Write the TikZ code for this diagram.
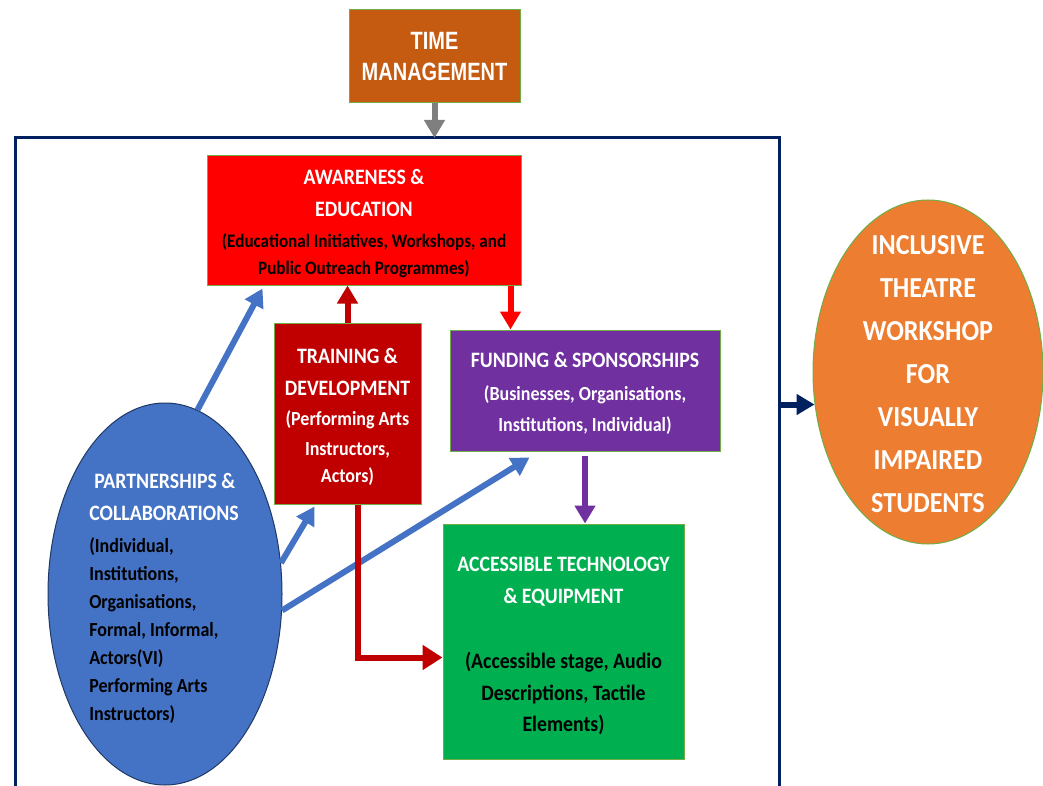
\documentclass[tikz,border=0pt]{standalone}
\usepackage{fontspec}
\setmainfont{Carlito}[FakeStretch=0.9]
\newfontfamily\narrowfont{Liberation Sans}[FakeStretch=0.8]
\usetikzlibrary{arrows.meta,shapes.geometric}

\definecolor{timebrown}{HTML}{C55A11}
\definecolor{framenavy}{HTML}{002060}
\definecolor{edgegreen}{HTML}{70AD47}
\definecolor{awred}{HTML}{FF0000}
\definecolor{trdred}{HTML}{C00000}
\definecolor{fundpurple}{HTML}{7030A0}
\definecolor{techgreen}{HTML}{00B050}
\definecolor{ptnblue}{HTML}{4472C4}
\definecolor{ptnedge}{HTML}{203864}
\definecolor{outorange}{HTML}{ED7D31}
\definecolor{arrgrey}{HTML}{7F7F7F}

% one line of a box: title (white), body (black)
\newcommand{\tline}[1]{{\fontsize{22}{32}\selectfont #1}}
\newcommand{\kline}[1]{{\color{black}#1}}

\begin{document}
\begin{tikzpicture}[x=1pt,y=-1pt,
  blk/.style={draw=edgegreen, line width=1, inner sep=0},
  txt/.style={text=white, align=center, inner sep=0, yshift=-3pt},
  arr/.style={line width=6, -{Triangle[length=18pt,width=20pt]}}]
\useasboundingbox (0,0) rectangle (1043,786);

\coordinate (ftl) at (15,138);
\coordinate (ftr) at (779,138);
\draw[framenavy, line width=3] (15,786) -- (ftl) -- (ftr) -- (779,786);

\node[blk, fill=timebrown, minimum width=171, minimum height=93, text=white, align=center,
  font=\narrowfont\bfseries\fontsize{25}{31}\selectfont] (time) at (434.5,56.5) {TIME\\MANAGEMENT};

\node[blk, fill=awred, minimum width=314, minimum height=129,
  label={[txt, font=\bfseries\fontsize{19}{27}\selectfont]center:{\tline{AWARENESS \&}\\[5pt]\tline{EDUCATION}\\[4pt]\kline{(Educational Initiatives, Workshops, and}\\\kline{Public Outreach Programmes)}}}] (aware) at (364,220.5) {};
\node[blk, fill=trdred, minimum width=147, minimum height=181,
  label={[txt, font=\bfseries\fontsize{20}{30}\selectfont]center:{\tline{TRAINING \&}\\[2pt]\tline{DEVELOPMENT}\\(Performing Arts\\Instructors,\\[-3pt]Actors)}}] (train) at (347.5,413.5) {};
\node[blk, fill=fundpurple, minimum width=270, minimum height=121,
  label={[txt, font=\bfseries\fontsize{20}{31}\selectfont]center:{\tline{FUNDING \& SPONSORSHIPS}\\[2pt](Businesses, Organisations,\\Institutions, Individual)}}] (fund) at (585,390.5) {};
\node[blk, fill=techgreen, minimum width=241, minimum height=235,
  label={[txt, yshift=-1pt, font=\bfseries\fontsize{22}{32}\selectfont]center:{ACCESSIBLE TECHNOLOGY\\\& EQUIPMENT\\[33pt]\kline{(Accessible stage, Audio}\\\kline{Descriptions, Tactile}\\[-1pt]\kline{Elements)}}}] (tech) at (563.5,641.5) {};

\node[ellipse, draw=ptnedge, line width=1, fill=ptnblue, minimum width=234, minimum height=382, inner sep=0,
  label={[align=left, font=\bfseries\fontsize{20}{28}\selectfont, inner sep=0, xshift=-1pt, yshift=-4pt]center:{\hspace*{5pt}\tline{\color{white}PARTNERSHIPS \&}\\[4pt]\tline{\color{white}COLLABORATIONS}\\[4pt](Individual,\\Institutions,\\Organisations,\\Formal, Informal,\\Actors(VI)\\Performing Arts\\Instructors)}}] (partners) at (165,594) {};

\node[ellipse, draw=edgegreen, line width=1, fill=outorange, minimum width=230, minimum height=344, inner sep=0,
  label={[align=center, text=white, font=\bfseries\fontsize{29}{43}\selectfont, inner sep=0, yshift=-2pt]center:{INCLUSIVE\\THEATRE\\WORKSHOP\\FOR\\VISUALLY\\IMPAIRED\\STUDENTS}}] (outcome) at (928,372) {};

\coordinate (redtop) at ([xshift=-11pt]aware.south east);
\coordinate (elbowtop) at ([xshift=10pt]train.south);
\coordinate (elbowend) at ([yshift=-16pt]tech.west);

\draw[arr, arrgrey] (time.south) -- (time.south |- ftl);
\draw[arr, framenavy] (outcome.196 -| ftr) -- (outcome.196);
\draw[arr, ptnblue] (partners.80) -- ([xshift=56pt,yshift=-3pt]aware.south west);
\draw[arr, ptnblue] (partners.15) -- ([xshift=41pt,yshift=-2pt]train.south west);
\draw[arr, ptnblue] (partners.-8) -- ([xshift=80pt,yshift=-6pt]fund.south west);
\draw[arr, trdred] (train.north) -- (train.north |- aware.south);
\draw[arr, awred] (redtop) -- (redtop |- fund.north);
\draw[arr, fundpurple] ([yshift=-4pt]fund.south) -- (fund.south |- tech.north);
\draw[arr, trdred, -{Triangle[length=20pt,width=24pt]}] (elbowtop) |- (elbowend);
\end{tikzpicture}
\end{document}
